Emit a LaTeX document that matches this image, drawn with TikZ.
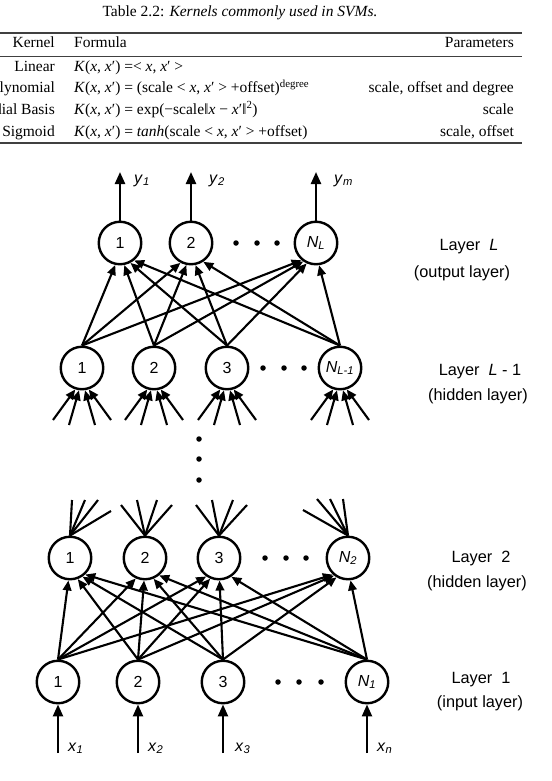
\documentclass[tikz,border=0pt]{standalone}
\usepackage{fontspec}
\setmainfont{Liberation Serif}
\newfontfamily\sansf{Liberation Sans}
\usetikzlibrary{arrows.meta,calc}
\newcommand{\toborder}[3][edge]{%
  \draw[#1] let \p1=($(#2)-(#3.center)$), \n1={atan2(\y1,\x1)} in
    (#2) -- ($(#3.center)+({-90+0.6*(\n1+90)}:22.5pt)$);}
\begin{document}
\begin{tikzpicture}[x=1pt,y=-1pt,
  neuron/.style={circle,draw,line width=2.4pt,minimum size=42.5pt,inner sep=0pt,
    font=\sansf\fontsize{16}{18}\selectfont},
  edge/.style={line width=2.1pt,-{Triangle[length=10pt,width=8.5pt]}},
  bigedge/.style={line width=2.3pt,-{Triangle[length=12pt,width=10pt]}},
  plainline/.style={line width=2.1pt},
  lbl/.style={font=\sansf\fontsize{16.3}{19}\selectfont,inner sep=0pt},
  io/.style={font=\sansf\fontsize{16}{19}\selectfont,inner sep=0pt},
  tbl/.style={font=\fontsize{15.5}{18}\selectfont,inner sep=0pt},
  dotm/.style={circle,fill,inner sep=0pt,minimum size=5.5pt},
  rulethick/.style={line width=1.6pt,black!75},
  rulethin/.style={line width=0.9pt,black!75}]
\useasboundingbox (0,0) rectangle (551,781);
% ---------------- table ----------------
\node[tbl,anchor=base] (cap) at (240,17) {Table 2.2: \textit{Kernels commonly used in SVMs.}};
\draw[rulethick] (0,33) -- (522,33);
\node[tbl,anchor=base east] (hk) at (55,48) {Kernel};
\node[tbl,anchor=base west] (hf) at (74,48) {Formula};
\node[tbl,anchor=base east] (hp) at (514,48) {Parameters};
\draw[rulethin] (0,56) -- (522,56);
\node[tbl,anchor=base east] (k1) at (55,72) {Linear};
\node[tbl,anchor=base west] (f1) at (74,72) {\textit{K}(\textit{x}, \textit{x}′) =< \textit{x}, \textit{x}′ >};
\node[tbl,anchor=base east] (k2) at (55,93) {Polynomial};
\node[tbl,anchor=base west] (f2) at (74,93) {\textit{K}(\textit{x}, \textit{x}′) = (scale < \textit{x}, \textit{x}′ > +offset)\textsuperscript{degree}};
\node[tbl,anchor=base east] (p2) at (514,93) {scale, offset and degree};
\node[tbl,anchor=base east] (k3) at (55,114) {Radial Basis};
\node[tbl,anchor=base west] (f3) at (74,114) {\textit{K}(\textit{x}, \textit{x}′) = exp(−scale‖\textit{x} − \textit{x}′‖\textsuperscript{2})};
\node[tbl,anchor=base east] (p3) at (514,114) {scale};
\node[tbl,anchor=base east] (k4) at (55,136) {Sigmoid};
\node[tbl,anchor=base west] (f4) at (74,136) {\textit{K}(\textit{x}, \textit{x}′) = \textit{tanh}(scale < \textit{x}, \textit{x}′ > +offset)};
\node[tbl,anchor=base east] (p4) at (514,136) {scale, offset};
\draw[rulethick] (0,143) -- (522,143);
% ---------------- neurons ----------------
\node[neuron] (o1) at (120,243) {1};
\node[neuron] (o2) at (191,243) {2};
\node[neuron] (oN) at (316,243) {\textit{N}\textsubscript{\textit{L}}};
\node[neuron] (g1) at (82,368) {1};
\node[neuron] (g2) at (154,368) {2};
\node[neuron] (g3) at (227,368) {3};
\node[neuron] (gN) at (340,368) {\textit{N}\textsubscript{\textit{L-1}}};
\node[neuron] (h1) at (70,558) {1};
\node[neuron] (h2) at (145,558) {2};
\node[neuron] (h3) at (219,558) {3};
\node[neuron] (hN) at (348,558) {\textit{N}\textsubscript{\textit{2}}};
\node[neuron] (i1) at (58,682) {1};
\node[neuron] (i2) at (138,682) {2};
\node[neuron] (i3) at (223,682) {3};
\node[neuron] (iN) at (367,682) {\textit{N}\textsubscript{\textit{1}}};
% dots
\foreach \x [count=\k] in {236,257,277} \node[dotm] (do\k) at (\x,243) {};
\foreach \x [count=\k] in {263,284,304} \node[dotm] (dg\k) at (\x,368) {};
\foreach \x [count=\k] in {265,286,306} \node[dotm] (dh\k) at (\x,558) {};
\foreach \x [count=\k] in {278,299,321} \node[dotm] (di\k) at (\x,682) {};
\foreach \y [count=\k] in {439,459,480} \node[dotm] (dv\k) at (199,\y) {};
% ---------------- connections ----------------
\foreach \a in {i1,i2,i3,iN} \foreach \b in {h1,h2,h3,hN} {\toborder{\a.north}{\b}}
\foreach \a in {g1,g2,g3,gN} \foreach \b in {o1,o2,oN} {\toborder{\a.north}{\b}}
% fan-in below layer L-1
\foreach \nd in {g1,g2,g3,gN}
  \foreach \dx/\dy [count=\k] in {-29/52,-13/57,13/57,29/52} {
    \coordinate (\nd f\k) at ($(\nd.center)+(\dx,\dy)$);
    \toborder{\nd f\k}{\nd}
  }
% fan-out above layer 2
\foreach \dx/\dy [count=\k] in {2/-58,15/-58,28/-58,41/-47}
  {\coordinate (h1u\k) at ($(h1.center)+(\dx,\dy)$); \draw[plainline] (h1.north) -- (h1u\k);}
\foreach \dx/\dy [count=\k] in {-24/-53,-8/-58,12/-58,27/-53}
  {\coordinate (h2u\k) at ($(h2.center)+(\dx,\dy)$); \draw[plainline] (h2.north) -- (h2u\k);}
\foreach \dx/\dy [count=\k] in {-23/-53,-7/-58,14/-58,28/-53}
  {\coordinate (h3u\k) at ($(h3.center)+(\dx,\dy)$); \draw[plainline] (h3.north) -- (h3u\k);}
\foreach \dx/\dy [count=\k] in {-45/-48,-31/-59,-18/-59,-5/-59}
  {\coordinate (hNu\k) at ($(hN.center)+(\dx,\dy)$); \draw[plainline] (hN.north) -- (hNu\k);}
% outputs
\coordinate (y1) at (120,172);
\coordinate (y2) at (191,172);
\coordinate (ym) at (316,172);
\draw[bigedge] (o1.north) -- (y1);
\draw[bigedge] (o2.north) -- (y2);
\draw[bigedge] (oN.north) -- (ym);
\node[io,anchor=base west] (ly1) at (134,183) {\textit{y}\textsubscript{\textit{1}}};
\node[io,anchor=base west] (ly2) at (209,183) {\textit{y}\textsubscript{\textit{2}}};
\node[io,anchor=base west] (lym) at (334,183) {\textit{y}\textsubscript{\textit{m}}};
% inputs
\coordinate (x1) at (58,753);
\coordinate (x2) at (138,753);
\coordinate (x3) at (223,753);
\coordinate (xn) at (367,753);
\draw[bigedge] (x1) -- (i1.south);
\draw[bigedge] (x2) -- (i2.south);
\draw[bigedge] (x3) -- (i3.south);
\draw[bigedge] (xn) -- (iN.south);
\node[io,anchor=base west] (lx1) at (68,751) {\textit{x}\textsubscript{\textit{1}}};
\node[io,anchor=base west] (lx2) at (148,751) {\textit{x}\textsubscript{\textit{2}}};
\node[io,anchor=base west] (lx3) at (235,751) {\textit{x}\textsubscript{\textit{3}}};
\node[io,anchor=base west] (lxn) at (377,751) {\textit{x}\textsubscript{\textit{n}}};
% ---------------- layer labels ----------------
\node[lbl,anchor=base] (LL) at (469,250) {Layer\ \ \textit{L}};
\node[lbl,anchor=base] (LLs) at (462,277) {(output layer)};
\node[lbl,anchor=base] (LM) at (480,375) {Layer\ \ \textit{L} - 1};
\node[lbl,anchor=base] (LMs) at (478,400) {(hidden layer)};
\node[lbl,anchor=base] (L2) at (481,562) {Layer\ \ 2};
\node[lbl,anchor=base] (L2s) at (477,587) {(hidden layer)};
\node[lbl,anchor=base] (L1) at (481,683) {Layer\ \ 1};
\node[lbl,anchor=base] (L1s) at (480,707) {(input layer)};
\end{tikzpicture}
\end{document}
